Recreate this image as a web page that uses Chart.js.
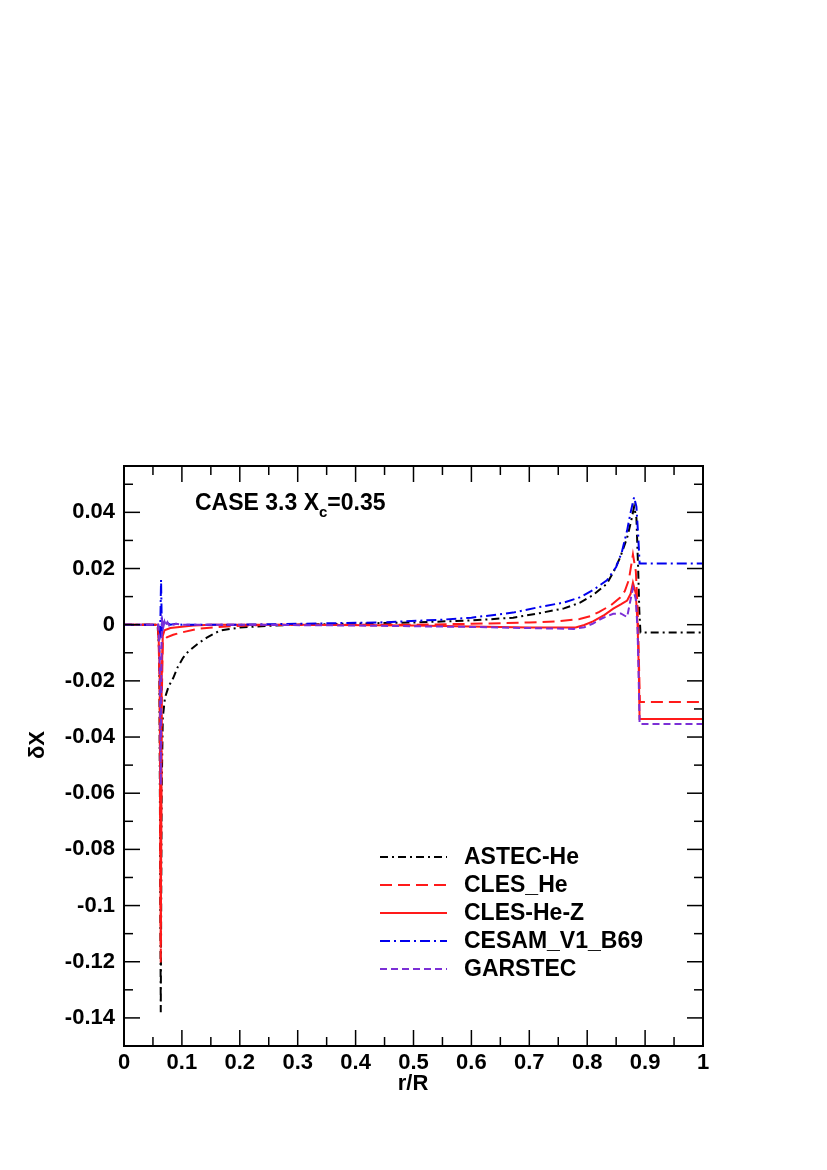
<!DOCTYPE html>
<html>
<head>
<meta charset="utf-8">
<script src="https://cdn.jsdelivr.net/npm/chart.js@4/dist/chart.umd.min.js"></script>
<style>
  html, body { margin: 0; padding: 0; background: #fff; }
  #wrap { width: 827px; height: 1170px; }
</style>
</head>
<body>
<div id="wrap"><canvas id="chart" width="827" height="1170"></canvas></div>
<script>
// r/R and delta X for each model
const astecX = [0, 0.058, 0.061, 0.0635, 0.065, 0.067, 0.0708, 0.077, 0.085, 0.093, 0.102, 0.11, 0.119, 0.13, 0.143, 0.155, 0.166, 0.2, 0.247, 0.3, 0.4, 0.5, 0.6, 0.672, 0.72, 0.76, 0.787, 0.81, 0.834, 0.846, 0.857, 0.869, 0.876, 0.881, 0.885, 0.888, 0.89, 0.892, 1];
const astecY = [0, 0, -0.01, -0.138, -0.06, -0.033, -0.026, -0.022, -0.019, -0.015, -0.0118, -0.0098, -0.0082, -0.0064, -0.0046, -0.0032, -0.0021, -0.001, -0.0004, 0, 0.0004, 0.0008, 0.0015, 0.0025, 0.0042, 0.0058, 0.0078, 0.0105, 0.0146, 0.019, 0.024, 0.031, 0.037, 0.042, 0.038, 0.02, 0.005, -0.0028, -0.0028];

const clesHeX = [0, 0.059, 0.0615, 0.0635, 0.065, 0.067, 0.074, 0.085, 0.097, 0.126, 0.171, 0.22, 0.3, 0.5, 0.6, 0.7, 0.75, 0.787, 0.805, 0.82, 0.84, 0.857, 0.865, 0.872, 0.879, 0.884, 0.887, 0.889, 0.891, 1];
const clesHeY = [0, 0, -0.02, -0.121, -0.03, -0.006, -0.0045, -0.0036, -0.0029, -0.0015, -0.0007, -0.0002, 0, 0, 0.0003, 0.0008, 0.0012, 0.002, 0.003, 0.0045, 0.0068, 0.0097, 0.012, 0.016, 0.025, 0.019, 0.006, -0.01, -0.0275, -0.0275];

const clesHeZX = [0, 0.059, 0.0615, 0.0635, 0.065, 0.067, 0.07, 0.08, 0.1, 0.12, 0.15, 0.3, 0.5, 0.6, 0.7, 0.78, 0.795, 0.81, 0.83, 0.845, 0.858, 0.869, 0.875, 0.879, 0.884, 0.887, 0.889, 0.8905, 1];
const clesHeZY = [0, 0, -0.015, -0.115, -0.02, -0.004, -0.002, -0.0012, -0.0007, -0.0003, 0, 0, -0.0003, -0.0006, -0.001, -0.001, -0.0001, 0.0012, 0.0035, 0.0057, 0.0072, 0.0086, 0.011, 0.015, 0.011, 0.0, -0.015, -0.0336, -0.0336];

const cesamX = [0, 0.059, 0.0625, 0.064, 0.0655, 0.0665, 0.068, 0.07, 0.072, 0.075, 0.08, 0.09, 0.1, 0.2, 0.3, 0.442, 0.55, 0.6, 0.672, 0.72, 0.76, 0.787, 0.81, 0.834, 0.85, 0.86, 0.869, 0.875, 0.881, 0.885, 0.888, 0.8905, 1];
const cesamY = [0, 0, -0.003, 0.016, -0.004, 0.001, -0.0005, 0.0008, -0.0002, 0.0006, 0, 0.0003, 0, 0, 0.0003, 0.0008, 0.0018, 0.0025, 0.0043, 0.0064, 0.0079, 0.0097, 0.0123, 0.0158, 0.0205, 0.026, 0.0336, 0.04, 0.0454, 0.042, 0.032, 0.0218, 0.0218];

const garstecX = [0, 0.059, 0.0615, 0.0635, 0.0648, 0.066, 0.068, 0.07, 0.072, 0.075, 0.078, 0.082, 0.086, 0.09, 0.1, 0.2, 0.4, 0.6, 0.7, 0.776, 0.795, 0.81, 0.825, 0.845, 0.858, 0.869, 0.874, 0.879, 0.884, 0.887, 0.889, 0.8905, 1];
const garstecY = [0, 0, -0.01, -0.057, -0.006, 0.0012, -0.0008, 0.001, -0.0004, 0.0009, -0.0002, 0.0006, 0, 0.0003, 0, 0, -0.0003, -0.0008, -0.0012, -0.0015, -0.0009, 0.0004, 0.0022, 0.0039, 0.004, 0.0027, 0.008, 0.013, 0.009, -0.002, -0.02, -0.0354, -0.0354];

const seriesNames = ['ASTEC-He', 'CLES_He', 'CLES-He-Z', 'CESAM_V1_B69', 'GARSTEC'];

const xTicks = [0, 0.1, 0.2, 0.3, 0.4, 0.5, 0.6, 0.7, 0.8, 0.9, 1];
const xTickLabels = ['0', '0.1', '0.2', '0.3', '0.4', '0.5', '0.6', '0.7', '0.8', '0.9', '1'];
const yTicks = [-0.14, -0.12, -0.1, -0.08, -0.06, -0.04, -0.02, 0, 0.02, 0.04];
const yTickLabels = ['-0.14', '-0.12', '-0.1', '-0.08', '-0.06', '-0.04', '-0.02', '0', '0.02', '0.04'];
const xMinorTicks = [0.05, 0.15, 0.25, 0.35, 0.45, 0.55, 0.65, 0.75, 0.85, 0.95];
const yMinorTicks = [-0.15, -0.13, -0.11, -0.09, -0.07, -0.05, -0.03, -0.01, 0.01, 0.03, 0.05];

const FONT = '"Liberation Sans", Arial, Helvetica, sans-serif';

function pts(xs, ys) {
  return xs.map((x, i) => ({ x: x, y: ys[i] }));
}

const styles = [
  { color: '#000000', dash: [8, 4, 2, 4], order: 5 },
  { color: '#ff1a1a', dash: [12, 6], order: 4 },
  { color: '#ff1a1a', dash: [], order: 3 },
  { color: '#0000ee', dash: [10, 4, 2, 4], order: 2 },
  { color: '#7b2fd6', dash: [7, 4], order: 1 }
];
const allData = [pts(astecX, astecY), pts(clesHeX, clesHeY), pts(clesHeZX, clesHeZY), pts(cesamX, cesamY), pts(garstecX, garstecY)];

const datasets = seriesNames.map((name, i) => ({
  label: name,
  data: allData[i],
  showLine: true,
  borderColor: styles[i].color,
  backgroundColor: styles[i].color,
  borderDash: styles[i].dash,
  borderWidth: 2,
  pointRadius: 0,
  tension: 0,
  order: styles[i].order
}));

// frame, inward ticks, legend, titles
const decorations = {
  id: 'decorations',
  afterDatasetsDraw(chart) {
    const ctx = chart.ctx;
    const a = chart.chartArea;
    const xs = chart.scales.x, ys = chart.scales.y;
    ctx.save();
    ctx.setLineDash([]);
    ctx.strokeStyle = '#000';

    ctx.lineWidth = 1.5;
    const tick = (x1, y1, x2, y2) => { ctx.beginPath(); ctx.moveTo(x1, y1); ctx.lineTo(x2, y2); ctx.stroke(); };
    xTicks.forEach(v => { const p = xs.getPixelForValue(v); tick(p, a.bottom, p, a.bottom - 16); tick(p, a.top, p, a.top + 16); });
    xMinorTicks.forEach(v => { const p = xs.getPixelForValue(v); tick(p, a.bottom, p, a.bottom - 9); tick(p, a.top, p, a.top + 9); });
    yTicks.forEach(v => { const p = ys.getPixelForValue(v); tick(a.left, p, a.left + 16, p); tick(a.right, p, a.right - 16, p); });
    yMinorTicks.forEach(v => { const p = ys.getPixelForValue(v); tick(a.left, p, a.left + 9, p); tick(a.right, p, a.right - 9, p); });

    ctx.lineWidth = 2;
    ctx.strokeRect(a.left, a.top, a.right - a.left, a.bottom - a.top);

    // legend
    ctx.font = 'bold 23px ' + FONT;
    ctx.textBaseline = 'middle';
    ctx.textAlign = 'left';
    chart.data.datasets.forEach((ds, i) => {
      const y = 857 + i * 28;
      ctx.strokeStyle = ds.borderColor;
      ctx.lineWidth = 2;
      ctx.setLineDash(ds.borderDash);
      tick(380, y, 447, y);
      ctx.setLineDash([]);
      ctx.fillStyle = '#000';
      ctx.fillText(ds.label, 464, y + 1);
    });

    // annotation
    ctx.fillStyle = '#000';
    ctx.textBaseline = 'alphabetic';
    ctx.font = 'bold 23px ' + FONT;
    let x = 195;
    const base = 510;
    ctx.fillText('CASE 3.3 X', x, base);
    x += ctx.measureText('CASE 3.3 X').width;
    ctx.font = 'bold 15px ' + FONT;
    ctx.fillText('c', x, base + 7);
    x += ctx.measureText('c').width;
    ctx.font = 'bold 23px ' + FONT;
    ctx.fillText('=0.35', x, base);

    // axis titles
    ctx.textAlign = 'center';
    ctx.textBaseline = 'middle';
    ctx.font = 'bold 22px ' + FONT;
    ctx.fillText('r/R', 413, 1084);
    ctx.save();
    ctx.translate(38, 745);
    ctx.rotate(-Math.PI / 2);
    ctx.fillText('\u03b4X', 0, 0);
    ctx.restore();

    ctx.restore();
  }
};

new Chart(document.getElementById('chart'), {
  type: 'scatter',
  data: { datasets: datasets },
  options: {
    responsive: false,
    animation: false,
    layout: { padding: { left: 0, top: 466, right: 124, bottom: 0 } },
    plugins: { legend: { display: false }, tooltip: { enabled: false } },
    scales: {
      x: {
        type: 'linear',
        min: 0,
        max: 1,
        grid: { display: false, drawTicks: false },
        border: { display: false },
        afterFit(scale) { scale.height = 124; },
        afterBuildTicks(scale) { scale.ticks = xTicks.map(v => ({ value: v })); },
        ticks: {
          padding: 4,
          color: '#000',
          font: { family: FONT, size: 22, weight: 'bold' },
          callback: (v) => xTickLabels[xTicks.indexOf(v)]
        }
      },
      y: {
        type: 'linear',
        min: -0.15,
        max: 0.0565,
        grid: { display: false, drawTicks: false },
        border: { display: false },
        afterFit(scale) { scale.width = 124; },
        afterBuildTicks(scale) { scale.ticks = yTicks.map(v => ({ value: v })); },
        ticks: {
          padding: 9,
          color: '#000',
          font: { family: FONT, size: 22, weight: 'bold' },
          callback: (v) => yTickLabels[yTicks.indexOf(v)]
        }
      }
    }
  },
  plugins: [decorations]
});
</script>
</body>
</html>
